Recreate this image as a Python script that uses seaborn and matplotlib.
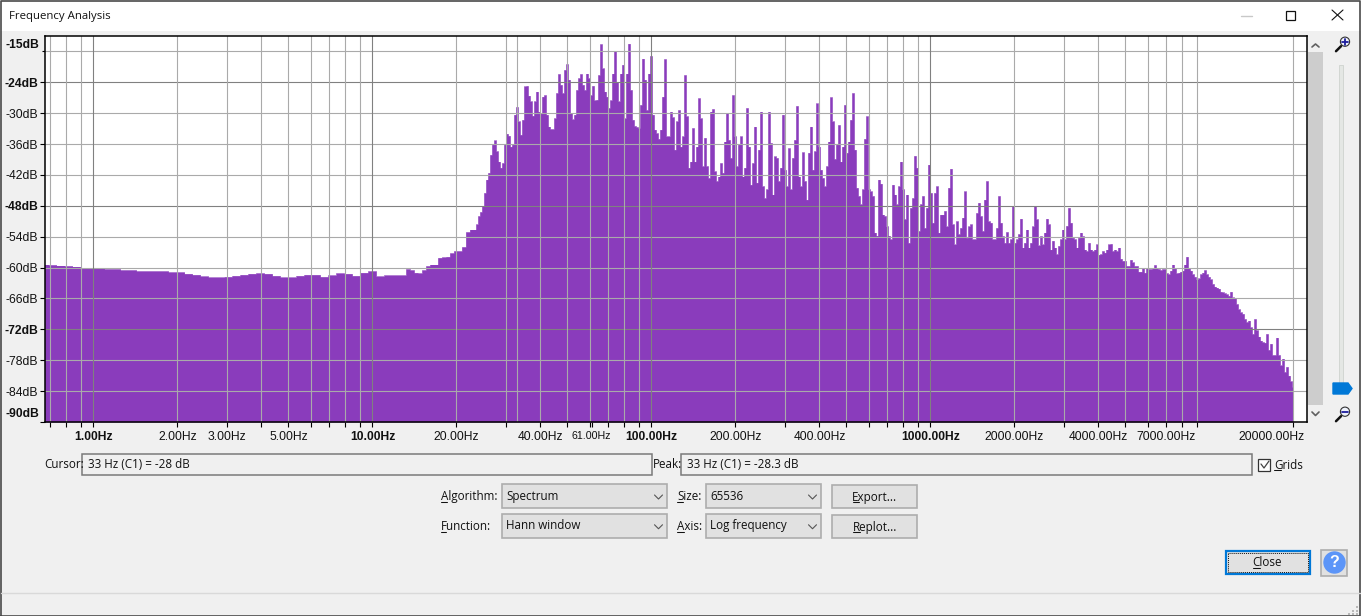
import numpy as np
import pandas as pd
import matplotlib
matplotlib.use("Agg")
import matplotlib.pyplot as plt
from matplotlib.patches import Rectangle, Circle, Polygon
from matplotlib.transforms import ScaledTranslation
import seaborn as sns

# Spectrum levels in dB, one list per stretch of the axis
low_db = [-59.4, -59.5, -59.6, -59.7, -59.8, -60.1, -60.1, -60.1, -60.3, -60.3, -60.5, -60.5,
          -60.7, -60.7, -60.7, -60.7, -60.9, -60.9, -61.2, -61.4, -61.7, -61.9, -61.9, -61.8,
          -61.6, -61.4, -61.2, -61.1, -61.2, -61.6, -61.9, -61.9, -61.6, -61.4, -61.4, -61.8,
          -61.5, -61.1, -61.2, -61.6, -61.0, -60.7, -61.7, -61.5, -61.5]
rise_db = [-61.5, -60.3, -60.5, -61.0, -61.1, -60.5, -59.7, -59.4, -59.4, -58.1, -58.0, -57.9,
           -57.2, -56.8, -56.8, -56.0, -53.1, -52.6]
mid_db = [-52.6, -51.6, -50.0, -49.2, -48.1, -45.5, -42.9, -41.6, -38.1, -36.1, -35.3, -37.4,
          -39.4, -40.6, -39.7, -36.1, -34.0, -34.4, -36.5, -36.1, -30.3, -28.8, -31.6, -34.2,
          -31.3, -24.8, -24.7, -26.6, -27.7, -30.5, -27.7, -25.8, -29.7, -30.0, -26.8, -26.5,
          -30.3, -32.6, -33.1, -33.1, -31.0, -26.1, -22.4, -24.5, -26.1, -21.6, -20.5, -23.5,
          -30.0, -31.2, -30.3, -25.5, -23.2, -22.4, -24.5, -25.5, -22.3, -23.2, -26.5, -24.7,
          -27.5, -27.4, -22.6, -16.6, -21.3, -25.8, -26.8, -29.0, -27.5, -22.3, -17.9, -23.9,
          -27.7, -22.3, -20.6, -31.0, -22.3, -16.5, -25.5, -31.3, -32.5, -32.7, -32.9, -28.4,
          -19.4, -23.5, -29.4, -22.3, -18.9, -30.3, -33.2, -33.9, -35.0, -33.2, -26.8, -19.5,
          -34.5, -34.5, -29.7, -30.8, -37.1, -31.6, -29.4, -36.5, -34.5, -22.6, -30.6, -40.6,
          -39.4, -32.9, -39.4, -36.5, -27.1, -31.0, -40.3, -34.8, -40.3, -42.6, -29.7, -29.2,
          -41.3, -43.2, -42.3, -39.7, -41.6, -35.5, -30.0, -35.2, -38.7, -26.5, -34.5, -40.3,
          -36.1, -34.5, -42.3, -40.6, -29.0, -36.5, -43.9, -39.7, -32.6, -43.5, -37.1, -29.7,
          -44.2, -46.5, -44.8, -29.7]
upper_db = [-35.8, -45.8, -38.4, -38.7, -43.2, -40.6, -30.3, -41.0, -44.2, -36.8, -44.8, -38.7,
            -35.2, -28.6, -42.3, -44.2, -37.6, -43.2, -46.8, -37.7, -32.6, -41.0, -37.4, -28.1,
            -36.5, -41.0, -42.6, -44.2, -40.3, -35.5, -26.9, -31.6, -38.9, -36.1, -32.3, -39.4,
            -36.5, -28.4, -37.7, -35.5, -31.3, -26.1, -37.1, -44.5, -46.1, -47.7, -44.8, -35.0,
            -30.6, -44.8, -45.2, -46.1, -53.2, -53.8, -42.9, -43.7, -49.7, -50.0, -52.0, -53.8,
            -54.5, -43.9, -45.8, -47.7, -44.2, -39.4, -44.8, -50.6, -45.8, -55.2, -48.4, -46.5,
            -38.3, -40.6, -52.9, -47.7, -46.1, -52.3, -48.4, -40.0, -45.5, -51.3, -45.5, -44.2,
            -53.2, -49.7, -49.7, -49.0, -52.0, -44.5, -40.8, -51.6, -55.5, -51.0, -53.5, -52.3,
            -50.3, -45.2, -54.2, -52.0, -51.6, -54.5, -54.5, -49.4, -47.4, -50.0, -52.9, -46.8,
            -43.2, -51.0, -51.3, -54.5, -54.5, -52.3, -46.1, -51.3, -53.9, -55.2, -53.1, -55.2,
            -54.5, -48.1, -55.2, -54.5, -53.5, -50.5, -56.1, -55.2, -52.6, -56.1, -55.2, -52.0,
            -48.1, -50.6, -55.7, -53.9, -55.5, -53.2, -50.5, -51.6, -56.5, -54.8, -56.1, -57.4,
            -55.8, -54.5, -52.6, -54.5, -51.9, -48.4]
high_db = [-51.3, -54.2, -54.5, -56.1, -54.2, -53.2, -53.9, -56.5, -56.8, -55.2, -56.5, -56.8,
           -56.5, -55.5, -57.5, -57.4, -56.8, -57.1, -56.5, -55.5, -55.4, -56.8, -56.5, -56.8,
           -56.1, -58.3, -58.7, -58.7, -59.7, -59.7, -58.5, -59.0, -59.7, -59.7, -60.8, -60.8,
           -60.0, -61.0, -60.0, -60.3, -60.3, -60.0, -59.5, -60.0, -60.3, -60.5, -60.3, -60.3,
           -61.1, -61.3, -60.6, -59.4, -60.0, -61.1, -61.0, -60.8, -60.6, -59.4, -57.9, -60.0,
           -60.6, -61.3, -61.8, -62.3, -62.1, -61.3, -61.0, -60.5, -61.3, -61.8, -62.3, -63.2,
           -63.7, -63.9, -64.1, -64.7, -64.8, -65.0, -65.2, -65.5, -64.7, -65.8, -66.0, -67.1,
           -68.1, -68.7, -69.0, -70.0, -70.6, -70.3, -71.6, -72.9, -70.0, -72.2, -73.4, -74.2,
           -74.5, -74.6, -72.9, -76.0, -74.8, -77.0, -77.0, -73.6, -77.0, -79.0, -77.7, -80.3,
           -79.3, -81.0, -82.1, -83.2]

# Frequency span (Hz) that each list covers
low_span = (0.667, 12.14)
rise_span = (12.97, 22.7)
mid_span = (23.3, 263.8)
upper_span = (268.1, 3136.0)
high_span = (3189.0, 19926.0)

# Axis labels
db_labels = [-24, -30, -36, -42, -48, -54, -60, -66, -72, -78, -84]
bold_db = [-24, -48, -72]
labelled_hz = [1, 2, 3, 5, 10, 20, 40, 100, 200, 400, 1000, 2000, 4000, 7000, 20000]
bold_hz = [1, 10, 100, 1000]
plain_ticks_hz = [0.7, 0.8, 0.9, 4, 6, 7, 8, 9, 30, 50, 60, 70, 80, 90, 300, 500, 600, 700, 800, 900,
                  3000, 5000, 6000, 8000, 9000]

PURPLE = "#8a3cbc"
BG = "#f0f0f0"
W, H = 1361, 616

sns.set_style("white")
plt.rcParams["font.family"] = ["Liberation Sans", "DejaVu Sans"]

freq = np.concatenate([np.geomspace(*low_span, len(low_db)),
                       np.geomspace(*rise_span, len(rise_db)),
                       np.geomspace(*mid_span, len(mid_db)),
                       np.geomspace(*upper_span, len(upper_db)),
                       np.geomspace(*high_span, len(high_db))])
spectrum = pd.DataFrame({"freq": freq, "level": low_db + rise_db + mid_db + upper_db + high_db})

fig = plt.figure(figsize=(W / 100, H / 100), dpi=100, facecolor=BG)

# Dialog chrome lives on a full-figure axes in pixel units
ui = fig.add_axes([0, 0, 1, 1], zorder=0)
ui.set_xlim(0, W)
ui.set_ylim(H, 0)
ui.axis("off")

UI_FONT = "Open Sans"


def label(x, y, s, ha="left", size=8.35, color="#111111", **kw):
    ui.text(x, y + 1.2, s, ha=ha, va="center", fontsize=size, color=color, family=UI_FONT, **kw)


def box(x0, y0, x1, y1, face, edge, lw=1.0, **kw):
    ui.add_patch(Rectangle((x0, y0), x1 - x0, y1 - y0, facecolor=face, edgecolor=edge, linewidth=lw, **kw))


def under(x0, x1, y):
    ui.plot([x0, x1], [y, y], color="#111111", lw=0.75)


def combo(x0, y0, x1, y1, s):
    box(x0, y0, x1, y1, "#e1e1e1", "#adadad", lw=1.2)
    label(x0 + 4, (y0 + y1) / 2 - 1, s)
    cx, cy = x1 - 9, (y0 + y1) / 2 + 1
    ui.plot([cx - 4, cx, cx + 4], [cy - 2, cy + 2, cy - 2], color="#555555", lw=0.8)


def button(x0, y0, x1, y1, s):
    box(x0, y0, x1, y1, "#e1e1e1", "#adadad", lw=1.2)
    label((x0 + x1) / 2, (y0 + y1) / 2, s, ha="center")


# title bar and window border
box(0, 0, W, 31, "white", "none")
ui.plot([0.5, 0.5, W - 0.5, W - 0.5, 0.5], [H - 0.5, 0.5, 0.5, H - 0.5, H - 0.5], color="#4a4a4a", lw=1.2)
label(9, 15, "Frequency Analysis", size=8.2)
ui.plot([1241, 1252], [15.5, 15.5], color="#c8c8c8", lw=1)
box(1286.5, 10.5, 1295.5, 19.5, "none", "#111111", lw=0.9)
ui.plot([1332, 1343], [10, 20], color="#111111", lw=0.8)
ui.plot([1332, 1343], [20, 10], color="#111111", lw=0.8)

# scrollbar
box(1308, 52, 1323, 405, "#cdcdcd", "none")
ui.plot([1312, 1315.5, 1319], [47, 44, 47], color="#606060", lw=1.2)
ui.plot([1312, 1315.5, 1319], [412, 415.5, 412], color="#606060", lw=1.2)

# zoom slider
box(1339, 65, 1343, 392, "#e4e7e4", "#d2d6d2", lw=0.7)
ui.add_patch(Polygon([(1333, 383), (1348, 383), (1352, 388.5), (1348, 394), (1333, 394)], color="#0078d7"))
for cy, plus in [(41.7, True), (411.7, False)]:
    ui.plot([1336, 1341], [cy + 9.5, cy + 4.5], color="#111111", lw=1.8)
    ui.add_patch(Circle((1345, cy), 4.6, facecolor="#eef2fb", edgecolor="#333333", lw=0.8))
    ui.plot([1342, 1348], [cy, cy], color="#1c1c9c", lw=1.3)
    if plus:
        ui.plot([1345, 1345], [cy - 3, cy + 3], color="#1c1c9c", lw=1.3)

# cursor / peak read-outs
label(44, 463, "Cursor:")
box(82, 453.5, 652, 475, BG, "#7a7a7a", lw=1.1)
label(88, 463, "33 Hz (C1) = -28 dB")
label(653, 463, "Peak:")
box(681.5, 453.5, 1252, 475, BG, "#7a7a7a", lw=1.1)
label(687, 463, "33 Hz (C1) = -28.3 dB")

box(1258.5, 458.5, 1270.5, 470.5, "white", "#333333", lw=0.9)
ui.plot([1261, 1264, 1269], [464, 468, 461], color="#444444", lw=0.9)
label(1274, 464, "Grids")
under(1274, 1281, 470)

# algorithm / function row
label(441, 495, "Algorithm:")
under(441, 447, 501.5)
label(441, 525, "Function:")
under(441, 446, 531.5)
combo(502, 484, 667.5, 508, "Spectrum")
combo(502, 513.5, 667.5, 538, "Hann window")
label(677, 495, "Size:")
under(677, 683, 501.5)
label(677, 525, "Axis:")
under(677, 684, 531.5)
combo(706, 484, 821.5, 508, "65536")
combo(706, 513.5, 821.5, 538, "Log frequency")
button(832, 484.5, 917.5, 507.5, "Export...")
under(853, 859, 501.5)
button(832, 514.5, 917.5, 537.5, "Replot...")
under(853, 860, 531.5)

# close / help
box(1226, 551, 1310, 573.5, "#e1e1e1", "#0078d7", lw=1.6)
box(1228, 553, 1308, 571.5, "none", "#111111", lw=0.7, linestyle=(0, (1, 1)))
label(1267.5, 561.5, "Close", ha="center")
under(1253, 1260, 567.5)
box(1321.5, 549.5, 1347.5, 575.5, "#e1e1e1", "#adadad", lw=1.2)
ui.add_patch(Circle((1334.5, 562.5), 10.5, color="#5c95f8"))
ui.text(1334.5, 562.5, "?", ha="center", va="center", color="white", fontsize=11.5, fontweight="bold", family="Liberation Sans")

# status bar and resize grip
ui.plot([1, W - 1], [592.5, 592.5], color="#d9d9d9", lw=1)
for gx, gy in [(1356, 606), (1352, 610), (1356, 610), (1348, 613), (1352, 613), (1356, 613)]:
    box(gx, gy, gx + 2, gy + 2, "#b8b8b8", "none")

# Spectrum plot
ax = fig.add_axes([44.5 / W, 1 - 422 / H, 1262 / W, 386 / H], zorder=1, facecolor="white")
ax.set_xscale("log")
sns.lineplot(data=spectrum, x="freq", y="level", drawstyle="steps-mid", color=PURPLE, lw=0.4,
             estimator=None, errorbar=None, ax=ax, zorder=3)
ax.fill_between(spectrum["freq"], spectrum["level"], -90, step="mid", color=PURPLE, lw=0, zorder=2)
ax.set_xlim(0.6675, 22270)
ax.set_ylim(-90, -15)
ax.set_xlabel("")
ax.set_ylabel("")

# grid sits on top of the fill
for db in [-18] + db_labels:
    dark = db in bold_db
    ax.axhline(db, color="#808080" if dark else "#aaaaaa", lw=0.8, zorder=4)
for hz in labelled_hz + plain_ticks_hz + [33]:
    dark = hz in bold_hz
    ax.axvline(hz, color="#808080" if dark else "#aaaaaa", lw=0.8, zorder=4)

ax.set_xticks([], minor=True)
ax.set_xticks(labelled_hz + [61] + plain_ticks_hz)
ax.set_xticklabels([f"{hz:.2f}Hz" for hz in labelled_hz] + ["61.00Hz"] + [""] * len(plain_ticks_hz), fontsize=8.7)
ax.set_yticks(db_labels + [-90])
ax.set_yticklabels([f"{db}dB" for db in db_labels] + [""], fontsize=8.7, color="#111111")
for tick, db in zip(ax.get_yticklabels(), db_labels):
    if db in bold_db:
        tick.set_fontweight("bold")
ax.set_yticks([-18], minor=True)
ax.tick_params(axis="both", which="major", length=3.6, width=0.8, color="black", left=True, bottom=True, pad=1)
ax.tick_params(axis="x", pad=3)
ax.tick_params(axis="y", which="minor", length=2.2, width=0.8, color="black", left=True)

# tick_params resets label transforms, so style the x labels after it
for tick, hz in zip(ax.get_xticklabels(), labelled_hz + [61]):
    tick.set_color("#111111")
    if hz in bold_hz:
        tick.set_fontweight("bold")
    if hz == 61:
        tick.set_fontsize(7.7)
    if hz == 20000:
        # last label is pushed left, as the dialog does
        tick.set_transform(tick.get_transform() + ScaledTranslation(-0.22, 0, fig.dpi_scale_trans))

# the two end labels sit inside the axis range
for db, dy in [(-15, -6.3), (-90, 6.1)]:
    ax.annotate(f"{db}dB", xy=(0, db), xycoords=ax.get_yaxis_transform(), xytext=(-3.9, dy),
                textcoords="offset points", ha="right", va="center", fontsize=8.7,
                fontweight="bold", color="#111111", annotation_clip=False)

for spine in ax.spines.values():
    spine.set_visible(True)
    spine.set_color("black")
    spine.set_linewidth(1.1)
    spine.set_zorder(6)

fig.savefig("out.png", dpi=100, facecolor=BG)
